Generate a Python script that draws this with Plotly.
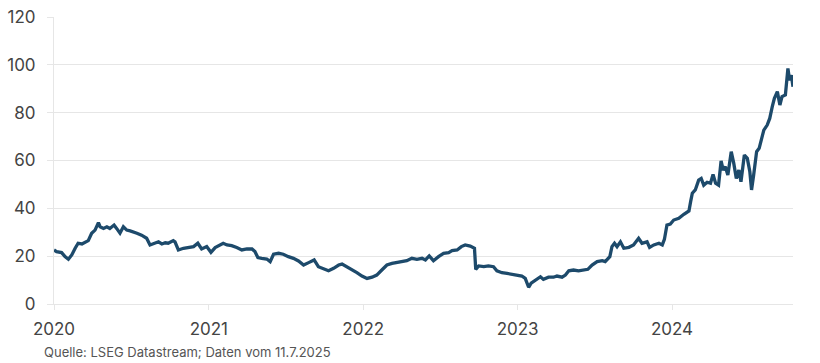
import pandas as pd
import plotly.graph_objects as go

start_date = "2020-01-01"
days_since_start = [
    0, 6, 18, 26, 34, 42, 50, 57, 66, 73, 81, 89, 97, 105, 109, 117, 125, 132, 142, 148,
    156, 164, 172, 180, 188, 196, 207, 219, 227, 239, 247, 255, 263, 270, 282, 286, 294,
    306, 318, 330, 340, 349, 361, 371, 381, 393, 400, 409, 420, 432, 444, 456, 468, 475,
    482, 491, 503, 511, 519, 531, 542, 554, 566, 578, 590, 602, 615, 625, 637, 649, 661,
    673, 681, 692, 704, 716, 728, 740, 752, 763, 775, 787, 799, 811, 823, 834, 846, 858,
    870, 878, 887, 897, 909, 921, 933, 941, 953, 963, 972, 984, 994, 997, 1004, 1016, 1027,
    1039, 1047, 1059, 1071, 1083, 1095, 1106, 1114, 1122, 1128, 1138, 1150, 1157, 1169,
    1181, 1189, 1201, 1209, 1217, 1228, 1240, 1252, 1262, 1272, 1284, 1296, 1303, 1314,
    1319, 1325, 1331, 1339, 1347, 1359, 1370, 1382, 1390, 1402, 1408, 1418, 1430, 1438,
    1443, 1449, 1457, 1465, 1477, 1489, 1501, 1505, 1509, 1516, 1524, 1530, 1536, 1544,
    1552, 1558, 1564, 1571, 1577, 1582, 1587, 1593, 1601, 1607, 1613, 1619, 1624, 1632,
    1639, 1645, 1649, 1654, 1661, 1667, 1672, 1678, 1686, 1692, 1698, 1703, 1710, 1716,
    1721, 1729, 1735, 1739, 1743, 1747,
]
values = [
    22.6, 21.9, 21.5, 19.8, 18.7, 20.5, 23.3, 25.4, 25.1, 25.6, 26.5, 29.6, 30.9, 34.0, 32.3,
    31.6, 32.3, 31.6, 33.0, 31.6, 29.6, 32.3, 30.9, 30.6, 30.2, 29.6, 28.8, 27.5, 24.7, 25.6,
    26.0, 25.1, 25.6, 25.4, 26.5, 26.0, 22.6, 23.3, 23.6, 24.0, 25.4, 23.0, 24.0, 21.6, 23.6,
    24.7, 25.4, 24.7, 24.4, 23.6, 22.6, 23.0, 23.0, 21.9, 19.4, 19.1, 18.8, 17.7, 20.8, 21.2,
    20.8, 19.8, 19.1, 18.0, 16.3, 17.3, 18.4, 15.6, 14.9, 13.9, 14.9, 16.3, 16.7, 15.6, 14.5,
    13.1, 11.7, 10.7, 11.2, 12.1, 14.2, 16.3, 17.0, 17.3, 17.6, 18.1, 19.1, 18.7, 19.1, 18.4,
    20.1, 18.1, 19.8, 21.2, 21.5, 22.3, 22.6, 24.0, 24.7, 24.2, 23.3, 14.5, 15.9, 15.6, 15.9,
    15.6, 13.9, 13.1, 12.8, 12.5, 12.1, 11.7, 10.7, 7.0, 8.7, 10.0, 11.4, 10.3, 11.2, 11.2,
    11.7, 11.2, 12.1, 13.9, 14.2, 13.9, 14.2, 14.5, 16.3, 17.7, 18.1, 17.7, 19.8, 24.0, 25.4,
    24.0, 26.0, 23.3, 23.7, 24.7, 27.5, 25.4, 26.0, 23.7, 24.7, 25.4, 24.7, 27.0, 33.0, 33.4,
    35.1, 35.8, 37.5, 38.9, 42.8, 46.3, 47.7, 51.8, 52.5, 49.7, 50.9, 50.5, 54.2, 50.5, 49.7,
    59.8, 56.0, 57.4, 53.9, 63.7, 58.8, 52.5, 56.0, 51.1, 62.3, 60.9, 55.3, 47.7, 53.9, 63.7,
    65.1, 68.6, 72.7, 74.8, 77.6, 82.5, 86.0, 88.8, 83.2, 86.7, 87.4, 98.5, 93.6, 95.7, 90.8,
]
year_ticks = ["2020-01-01", "2021-01-01", "2022-01-01", "2023-01-01", "2024-01-01"]
year_labels = ["2020", "2021", "2022", "2023", "2024"]
y_ticks = [0, 20, 40, 60, 80, 100, 120]
source_text = "Quelle: LSEG Datastream; Daten vom 11.7.2025"

dates = pd.Timestamp(start_date) + pd.to_timedelta(days_since_start, unit="D")

fig = go.Figure()
fig.add_trace(go.Scatter(
    x=dates, y=values, mode="lines",
    line=dict(color="#1d4a6b", width=3.3),
    hoverinfo="skip",
))

grid = "#e6e6e6"
fig.update_layout(
    width=820, height=363,
    margin=dict(l=54, r=27, t=17, b=59),
    paper_bgcolor="white", plot_bgcolor="white",
    showlegend=False,
    font=dict(family="Inter, Roboto, sans-serif", color="#444444", size=17),
    xaxis=dict(
        range=[pd.Timestamp(start_date), dates[-1]],
        tickvals=pd.to_datetime(year_ticks), ticktext=year_labels,
        showgrid=False, zeroline=False, automargin=False,
        showline=True, linecolor=grid, linewidth=1,
        ticks="outside", ticklen=5, tickcolor=grid,
        ticklabelstandoff=5,
        tickfont=dict(size=17, color="#444444"),
    ),
    yaxis=dict(
        range=[0, 120], tickvals=y_ticks,
        showgrid=True, gridcolor=grid, gridwidth=1,
        zeroline=False, automargin=False,
        showline=True, linecolor=grid, linewidth=1,
        ticks="outside", ticklen=6, tickcolor=grid,
        ticklabelstandoff=8,
        tickfont=dict(size=17, color="#444444"),
    ),
)
fig.add_annotation(
    text=source_text, xref="paper", yref="paper",
    x=-0.016, y=-0.132, xanchor="left", yanchor="top",
    showarrow=False, font=dict(size=13, color="#555555"),
)
fig.write_html("out.html")
